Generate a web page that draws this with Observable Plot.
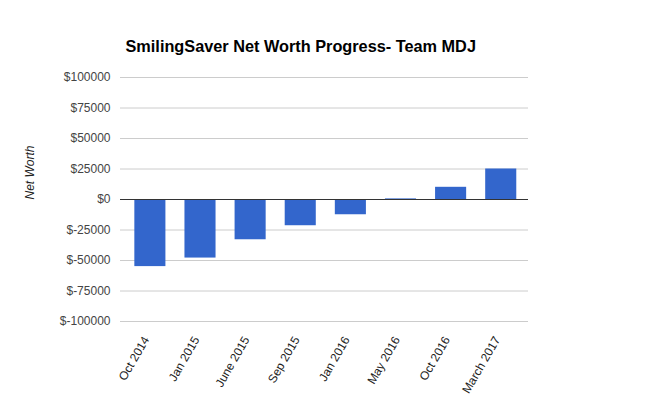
<!DOCTYPE html>
<html><head><meta charset="utf-8">
<script src="https://cdn.jsdelivr.net/npm/d3@7"></script>
<script src="https://cdn.jsdelivr.net/npm/@observablehq/plot@0.6"></script>
<style>body{margin:0;background:#fff;font-family:Arial,"Liberation Sans",sans-serif}</style>
</head><body><div id="chart"></div>
<script>
const categories = ["Oct 2014","Jan 2015","June 2015","Sep 2015","Jan 2016","May 2016","Oct 2016","March 2017"];
const netWorth = [-55000,-48000,-33000,-21500,-12500,500,10000,25000];
const yTicks = [-100000,-75000,-50000,-25000,0,25000,50000,75000,100000];
const title = "SmilingSaver Net Worth Progress- Team MDJ";
const yLabel = "Net Worth";
const data = categories.map((c,i)=>({cat:c, v:netWorth[i]}));
const chart = Plot.plot({
  width: 651, height: 398,
  marginTop: 77, marginBottom: 77, marginLeft: 120, marginRight: 123,
  style: {fontFamily: "Arial, 'Liberation Sans', sans-serif", fontSize: "12px", color: "#444"},
  x: {domain: categories, paddingInner: 0.38, paddingOuter: 0.26, align: 0.55, round: false, label: null},
  y: {domain: [-100000, 100000], label: null},
  marks: [
    Plot.gridY(yTicks, {stroke: "#ccc", strokeOpacity: 1}),
    Plot.barY(data, {x: "cat", y: "v", fill: "#3366cc"}),
    Plot.ruleY([0], {stroke: "#333", strokeWidth: 1}),
    Plot.axisY(yTicks, {tickSize: 0, tickPadding: 10, tickFormat: d => "$" + d, fill: "#444", fontSize: 12}),
    Plot.axisX({tickSize: 0, tickRotate: -60, tickPadding: 16, dx: -4, fill: "#222", fontSize: 12}),
    Plot.text([title], {frameAnchor: "top-left", dy: -37, dx: 5, textAnchor: "start", fontWeight: "bold", fontSize: 16.3, fill: "#000"}),
    Plot.text([yLabel], {frameAnchor: "left", dx: -90, rotate: -90, fontStyle: "italic", fontSize: 12, fill: "#222"})
  ]
});
document.getElementById("chart").appendChild(chart);
</script></body></html>
